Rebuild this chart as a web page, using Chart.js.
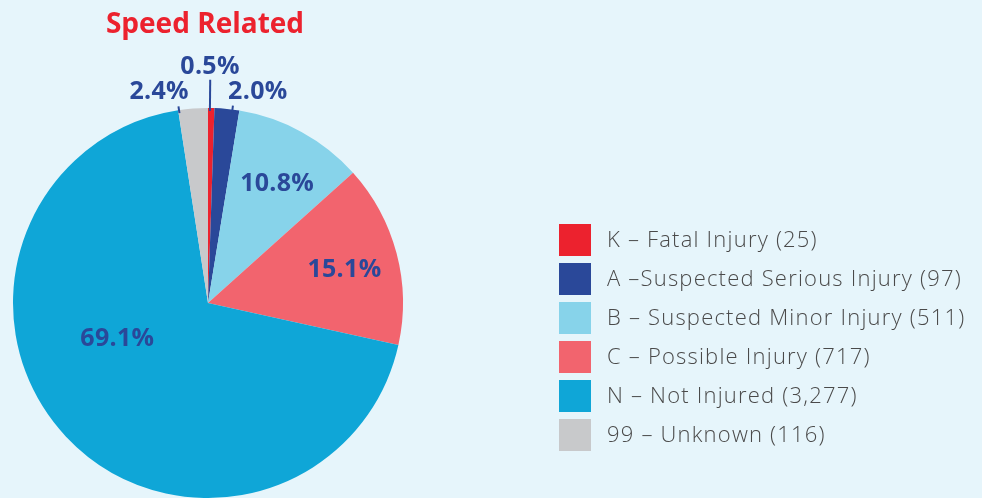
<!DOCTYPE html>
<html>
<head>
<meta charset="utf-8">
<script src="https://cdn.jsdelivr.net/npm/chart.js@4"></script>
<style>
  html, body { margin: 0; padding: 0; background: #e6f5fb; overflow: hidden; }
  #wrap { width: 982px; height: 498px; }
</style>
</head>
<body>
<div id="wrap"><canvas id="c" width="982" height="498"></canvas></div>
<script>
// Injury severity for speed-related crashes
const categories = [
  'K – Fatal Injury',
  'A –Suspected Serious Injury',
  'B – Suspected Minor Injury',
  'C – Possible Injury',
  'N – Not Injured',
  '99 – Unknown'
];
const counts = [25, 97, 511, 717, 3277, 116];
const colors = ['#ec222e', '#2a4899', '#87d3ea', '#f2646e', '#0fa6d7', '#c8c9cb'];
const titleText = 'Speed Related';

const total = counts.reduce((a, b) => a + b, 0);
const pctText = v => (v / total * 100).toFixed(1) + '%';

// Where each percentage label sits: angle as a fraction of the slice sweep,
// radius as a fraction of the pie radius; optional leader line.
const labelPlacement = [
  { f: 0.26, r: 1.21, leader: { f: 0.3, r0: 0.985, r1: 1.145 } },
  { f: 1.55, r: 1.11, leader: { f: 0.72, r0: 0.985, r1: 1.02 } },
  { f: 0.54, r: 0.705 },
  { f: 0.52, r: 0.72 },
  { f: 0.587, r: 0.50 },
  { f: -0.48, r: 1.11, leader: { f: 0.03, r0: 0.985, r1: 1.02 } }
];

const pieLabels = {
  id: 'pieLabels',
  afterDatasetsDraw(chart) {
    const ctx = chart.ctx;
    const arcs = chart.getDatasetMeta(0).data;
    ctx.save();
    ctx.fillStyle = '#2a4899';
    ctx.strokeStyle = '#2a4899';
    ctx.lineWidth = 2;
    ctx.font = 'bold 25px "Open Sans", sans-serif';
    ctx.letterSpacing = '0.3px';
    ctx.textAlign = 'center';
    ctx.textBaseline = 'middle';
    arcs.forEach((arc, i) => {
      const p = labelPlacement[i];
      const { x, y, startAngle, endAngle, outerRadius } = arc.getProps(['x', 'y', 'startAngle', 'endAngle', 'outerRadius'], true);
      const at = (f, r) => {
        const a = startAngle + (endAngle - startAngle) * f;
        return [x + Math.cos(a) * outerRadius * r, y + Math.sin(a) * outerRadius * r];
      };
      if (p.leader) {
        const [x0, y0] = at(p.leader.f, p.leader.r0);
        const [x1, y1] = at(p.leader.f, p.leader.r1);
        ctx.beginPath();
        ctx.moveTo(x0, y0);
        ctx.lineTo(x1, y1);
        ctx.stroke();
      }
      const [lx, ly] = at(p.f, p.r);
      ctx.fillText(pctText(counts[i]), lx, ly);
    });
    ctx.restore();
  }
};

// Title above the pie and the legend block to the right
const decorations = {
  id: 'decorations',
  afterDraw(chart) {
    const ctx = chart.ctx;
    const area = chart.chartArea;
    ctx.save();
    ctx.fillStyle = '#ec222e';
    ctx.font = 'bold 28px "Open Sans", sans-serif';
    ctx.textAlign = 'center';
    ctx.textBaseline = 'alphabetic';
    ctx.fillText(titleText, (area.left + area.right) / 2 - 3, 33);

    const boxX = 559, boxSize = 32, firstY = 240, step = 39;
    ctx.font = '300 22px "Open Sans", sans-serif';
    ctx.letterSpacing = '1.2px';
    ctx.textAlign = 'left';
    ctx.textBaseline = 'middle';
    categories.forEach((name, i) => {
      const cy = firstY + i * step;
      ctx.fillStyle = colors[i];
      ctx.fillRect(boxX, cy - boxSize / 2, boxSize, boxSize);
      ctx.fillStyle = '#4a4a4a';
      ctx.fillText(name + ' (' + counts[i].toLocaleString('en-US') + ')', boxX + 48, cy + 1);
    });
    ctx.restore();
  }
};

new Chart(document.getElementById('c'), {
  type: 'pie',
  data: {
    labels: categories,
    datasets: [{
      data: counts,
      backgroundColor: colors,
      borderWidth: 0
    }]
  },
  options: {
    responsive: false,
    animation: false,
    devicePixelRatio: 1,
    layout: { padding: { left: 13, top: 108, right: 579, bottom: 0 } },
    plugins: {
      legend: { display: false },
      tooltip: { enabled: false }
    }
  },
  plugins: [pieLabels, decorations]
});
</script>
</body>
</html>
